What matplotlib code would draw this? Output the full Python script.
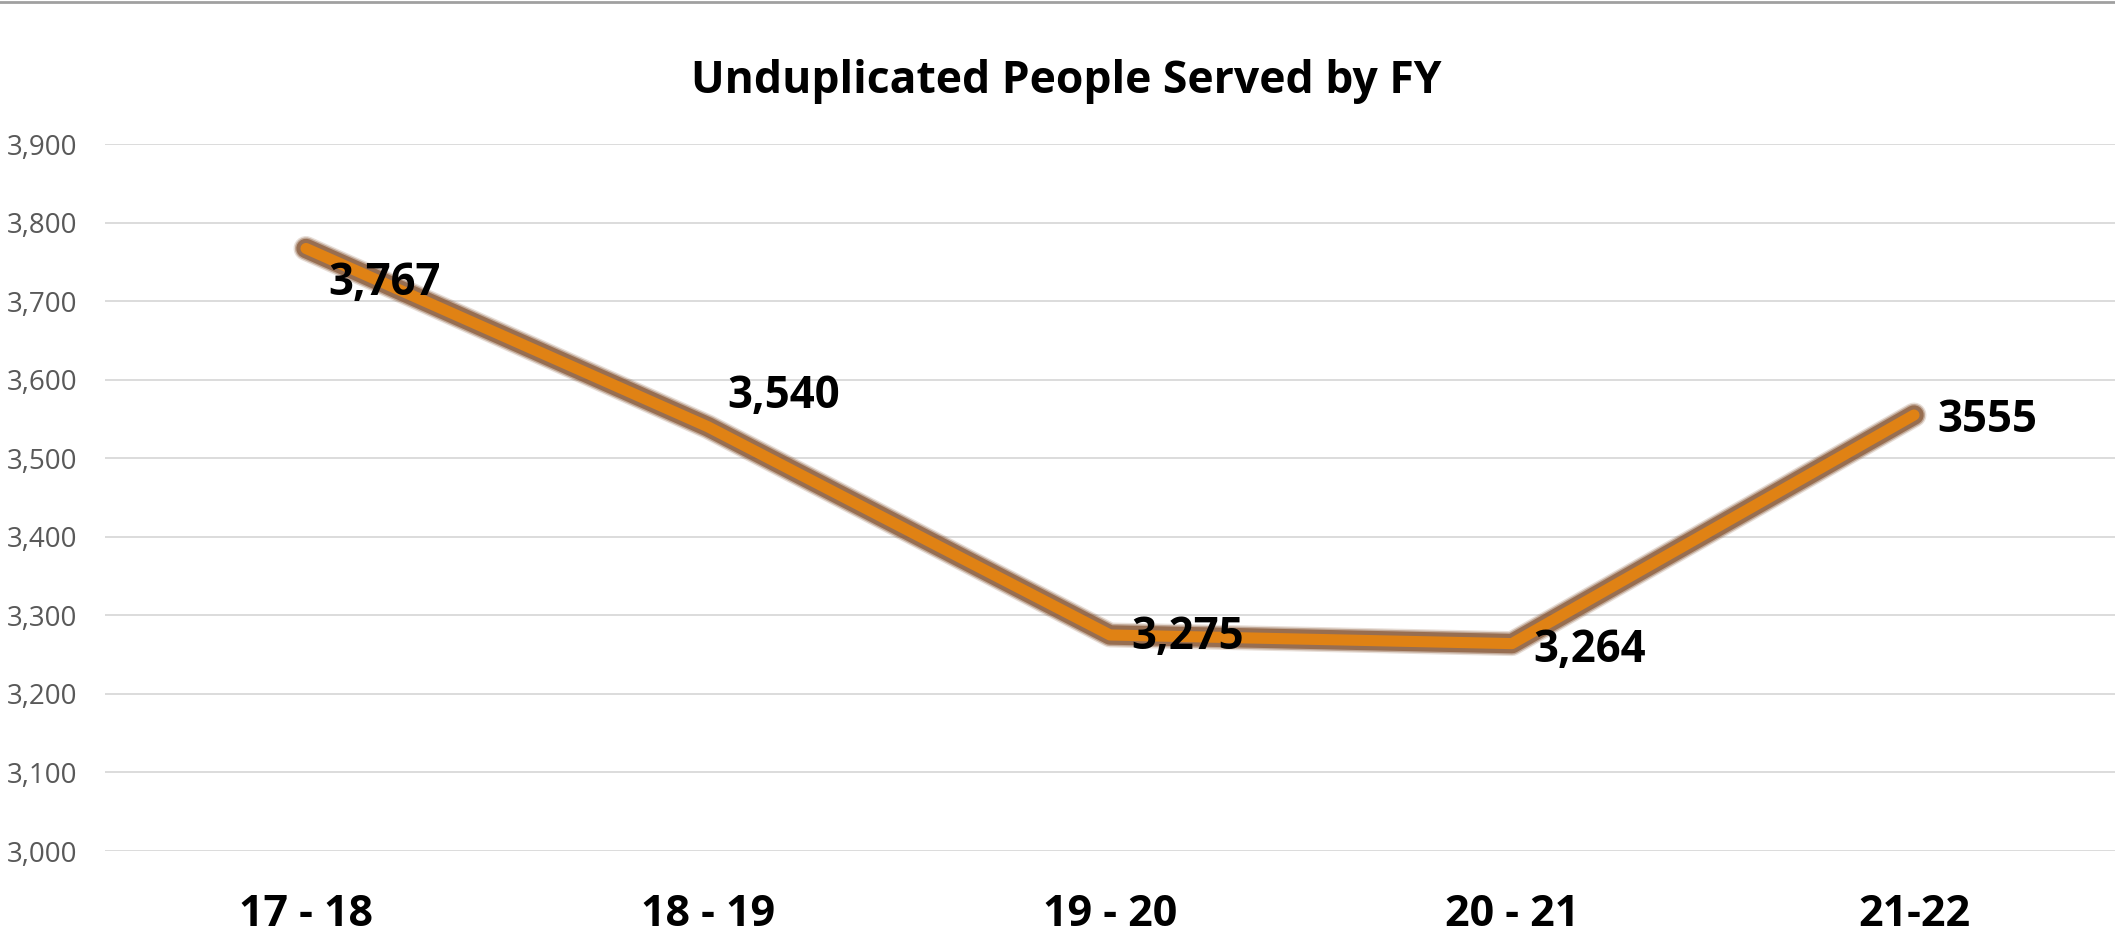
import matplotlib
matplotlib.use("Agg")
import matplotlib.pyplot as plt
from matplotlib.ticker import FuncFormatter, MultipleLocator
from matplotlib.lines import Line2D

categories = ["17 - 18", "18 - 19", "19 - 20", "20 - 21", "21-22"]
values = [3767, 3540, 3275, 3264, 3555]
value_labels = ["3,767", "3,540", "3,275", "3,264", "3555"]
title = "Unduplicated People Served by FY"

FONT = ["Open Sans", "DejaVu Sans"]
plt.rcParams["font.family"] = FONT

fig = plt.figure(figsize=(21.15, 9.35), dpi=100)
ax = fig.add_axes([105 / 2115, 1 - 851 / 935, 1 - 105 / 2115, (851 - 144) / 935])

x = list(range(len(categories)))

# soft brown glow/border
for lw, a in [(18, 0.2), (16, 0.4), (14, 0.75)]:
    ax.plot(x, values, color="#8A5A3A", lw=lw, alpha=a, solid_capstyle="round",
            solid_joinstyle="round", clip_on=False, zorder=3)
ax.plot(x, values, color="#E08214", lw=8, solid_capstyle="round",
        solid_joinstyle="round", clip_on=False, zorder=4)

# data labels (offsets in points)
offsets = [(16, -25), (14, 22), (15, -2), (15, -5), (17, -4)]
for xi, v, lab, (dx, dy) in zip(x, values, value_labels, offsets):
    ax.annotate(lab, (xi, v), xytext=(dx, dy), textcoords="offset points",
                ha="left", va="center", fontsize=31.5, fontweight="bold",
                color="black", zorder=5)

ax.set_xlim(-0.5, len(categories) - 0.5)
ax.set_ylim(3000, 3900)
ax.yaxis.set_major_locator(MultipleLocator(100))
ax.yaxis.set_major_formatter(FuncFormatter(lambda v, p: f"{int(v):,}"))
ax.set_xticks(x)
ax.set_xticklabels(categories, fontsize=31, fontweight="bold", color="black")
ax.tick_params(axis="x", length=0, pad=30)
ax.tick_params(axis="y", length=0, pad=20, labelsize=20, labelcolor="#595959")

ax.grid(axis="y", color="#D9D9D9", lw=1.3)
ax.set_axisbelow(True)
for s in ax.spines.values():
    s.set_visible(False)

fig.text(1066 / 2115, 1 - 81 / 935, title, ha="center", va="center",
         fontsize=32, fontweight="bold", color="black")

# top border line
fig.add_artist(Line2D([0.0, 1.0], [1 - 1.5 / 935, 1 - 1.5 / 935],
                      transform=fig.transFigure, color="#A0A0A0", lw=2))

fig.savefig("out.png", dpi=100, facecolor="white")
